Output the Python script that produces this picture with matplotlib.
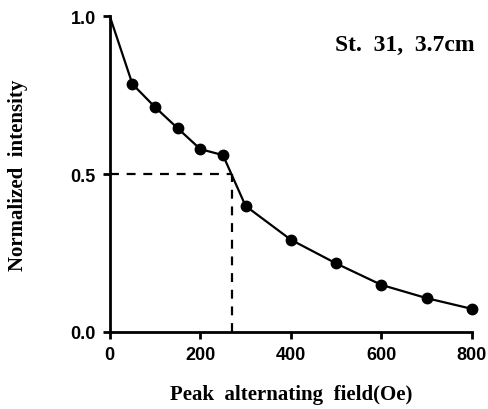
import numpy as np
import matplotlib
matplotlib.use("Agg")
import matplotlib.pyplot as plt

plt.rcParams['font.family'] = ['Liberation Serif', 'DejaVu Serif']
plt.rcParams['font.weight'] = 'bold'

# AF demagnetization curve
field = [0, 50, 100, 150, 200, 250, 300, 400, 500, 600, 700, 800]
intensity = [1.0, 0.785, 0.712, 0.645, 0.579, 0.56, 0.399, 0.292, 0.217, 0.149, 0.107, 0.073]
mdf = 270      # median destructive field
half = 0.5

fig = plt.figure(figsize=(4.88, 4.10), dpi=100)
ax = fig.add_axes([0.225, 0.188, 0.742, 0.770])

ax.plot(field, intensity, color='black', lw=1.6, zorder=3, clip_on=False)
ax.plot(field[1:], intensity[1:], 'o', color='black', ms=7.5, zorder=4, clip_on=False)
ax.plot([0, mdf], [half, half], '--', color='black', lw=1.6, dashes=(4, 3.5))
ax.plot([mdf, mdf], [0, half], '--', color='black', lw=1.6, dashes=(4, 3.5))

ax.set_xlim(0, 800)
ax.set_ylim(0, 1.0)
ax.set_xticks([0, 200, 400, 600, 800])
ax.set_yticks([0.0, 0.5, 1.0])
ax.set_yticklabels(['0.0', '0.5', '1.0'])
ax.spines['top'].set_visible(False)
ax.spines['right'].set_visible(False)
ax.spines['left'].set_linewidth(2)
ax.spines['bottom'].set_linewidth(2)
ax.tick_params(direction='out', length=5, width=2, labelsize=13, pad=5)
for lab in ax.get_xticklabels() + ax.get_yticklabels():
    lab.set_fontfamily('Liberation Sans')
    lab.set_fontweight('bold')

ax.set_xlabel('Peak  alternating  field(Oe)', fontsize=15, fontweight='bold')
ax.set_ylabel('Normalized  intensity', fontsize=15, fontweight='bold')
ax.xaxis.set_label_coords(0.5, -0.165)
ax.yaxis.set_label_coords(-0.227, 0.5)
ax.text(1.008, 0.911, 'St.  31,  3.7cm', transform=ax.transAxes, ha='right', va='center',
        fontsize=17, fontweight='bold')

fig.savefig('out.png', dpi=100)
